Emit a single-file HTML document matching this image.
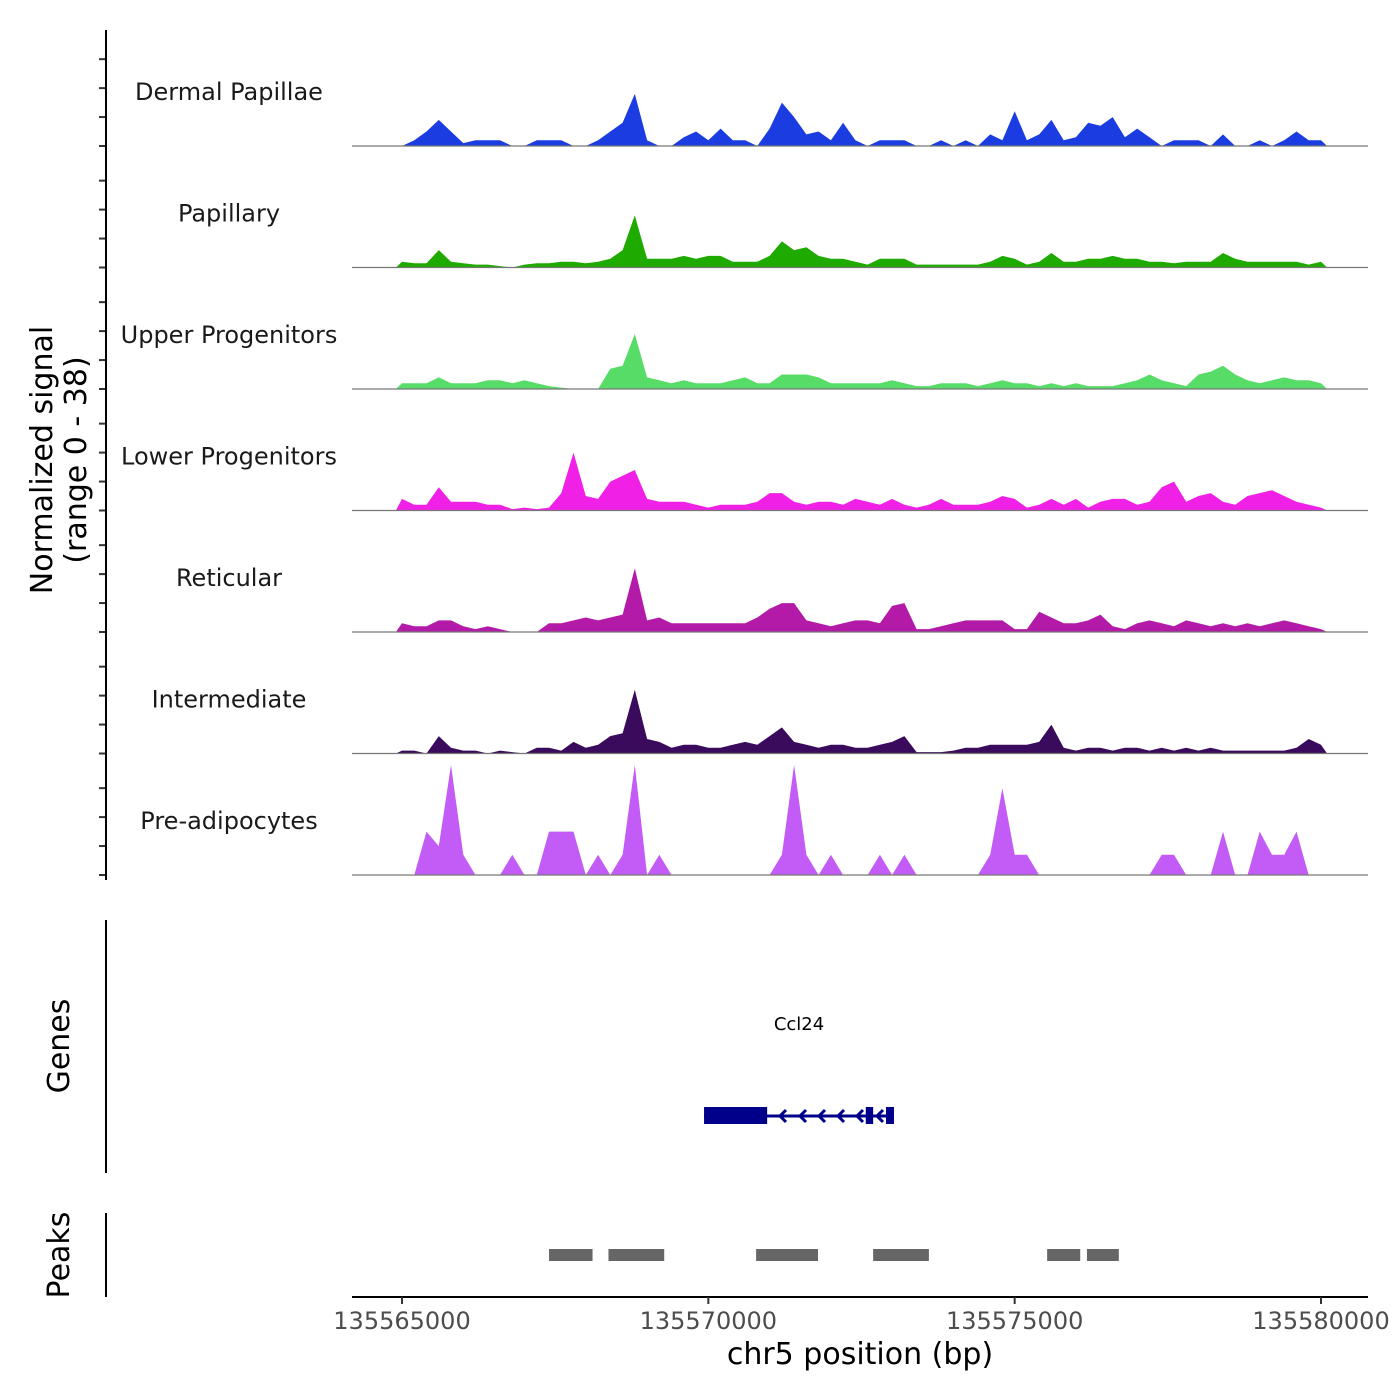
<!DOCTYPE html>
<html><head><meta charset="utf-8"><style>
body{margin:0;background:#fff}
svg{display:block;font-family:"DejaVu Sans","Liberation Sans",sans-serif}
</style></head><body>
<svg id="c" width="1400" height="1400" viewBox="0 0 1400 1400"></svg>
<script>
// ---- data ----
const trackNames = ["Dermal Papillae","Papillary","Upper Progenitors","Lower Progenitors","Reticular","Intermediate","Pre-adipocytes"];
const trackColors = ["#1a3ce0","#1faa00","#58dc68","#f020e6","#b31aa8","#3a0a5c","#c35cf6"];
const binStart = 135564900;
const binSize = 200;
const dermalPapillae = [0,2,5,9,5,1,2,2,2,0,0,2,2,2,0,0,2,5,8,18,2,0,0,3,5,2,6,2,2,0,6,15,10,4,5,2,8,2,0,2,2,2,0,0,2,0,2,0,4,2,12,2,4,9,2,3,8,7,10,3,6,3,0,2,2,2,0,4,0,0,2,0,2,5,2,2];
const papillary = [2,1.5,1.5,6,2,1.5,1,1,0.5,0,1,1.5,1.5,2,2,1.5,2,3,6,18,3,3,3,4,3,4,4,2,2,2,4,9,6,7,4,3,3,2,1,3,3,3,1,1,1,1,1,1,2,4,3,1,2,5,2,2,3,3,4,3,3,2,2,1.5,2,2,2,5,3,2,2,2,2,2,1,2];
const upperProgenitors = [2,2,2,4,2,2,2,3,3,2,3,2,1,0.5,0,0,0,7,8,19,4,3,2,3,2,2,2,3,4,2,2,5,5,5,4,2,2,2,2,2,3,2,1,1,2,2,2,1,2,3,2,2,1,2,1,2,1,1,1,2,3,5,3,2,1,5,6,8,5,3,2,3,4,3,3,2];
const lowerProgenitors = [4,2,2,8,3,3,3,2,2,0.5,1,0.5,1,6,20,5,4,10,12,14,4,3,3,3,2,1,2,2,2,3,6,6,3,2,3,3,2,4,3,2,4,2,1,2,4,2,2,2,3,5,4,1,2,4,2,4,1,3,4,4,2,3,8,10,3,5,6,3,2,5,6,7,5,3,2,1];
const reticular = [3,2,2,4,4,2,1,2,1,0,0,0,3,3,4,5,4,5,6,22,4,5,3,3,3,3,3,3,3,5,8,10,10,4,3,2,3,4,4,3,9,10,1,1,2,3,4,4,4,4,1,1,7,5,3,3,4,6,2,1,3,4,3,2,4,3,2,3,2,3,2,3,4,3,2,1];
const intermediate = [1,1,0,6,2,1,1,0,1,0.5,0,2,2,1,4,2,3,6,7,22,5,4,2,3,3,2,2,3,4,3,6,9,4,3,2,3,3,2,2,3,4,6,0.5,0.5,0.5,1,2,2,3,3,3,3,4,10,2,1,2,2,1,2,2,1,2,1,2,1,2,1,1,1,1,1,1,2,5,3];
const preAdipocytes = [0,0,15,10,38,7,0,0,0,7,0,0,15,15,15,0,7,0,7,38,0,7,0,0,0,0,0,0,0,0,0,7,38,7,0,7,0,0,0,7,0,7,0,0,0,0,0,0,7,30,7,7,0,0,0,0,0,0,0,0,0,0,7,7,0,0,0,15,0,0,15,7,7,15,0,0];
const signals = [dermalPapillae,papillary,upperProgenitors,lowerProgenitors,reticular,intermediate,preAdipocytes];
const yTicks = [0,10,20,30];
const xTicks = [135565000,135570000,135575000,135580000];
const peakStarts = [135567400,135568370,135570780,135572690,135575530,135576180];
const peakEnds   = [135568110,135569280,135571790,135573600,135576070,135576700];
const geneName = "Ccl24";
const geneStart = 135569930, geneEnd = 135573030;
const exonStarts = [135569930,135572570,135572900];
const exonEnds   = [135570960,135572690,135573030];

// ---- scales ----
const X0=352, X1=1368;
const xs = bp => 402 + (bp-135565000)*(919/15000);
const trackH = 121.5, firstBase = 146, pxPerUnit = 110/38;
const ys = (t,v) => firstBase + t*trackH - v*pxPerUnit;
const NS="http://www.w3.org/2000/svg";
const svg=document.getElementById('c');
function mk(tag,attrs,parent){const e=document.createElementNS(NS,tag);for(const k in attrs)e.setAttribute(k,attrs[k]);(parent||svg).appendChild(e);return e;}

signals.forEach((vals,t)=>{
  const g=mk('g',{});
  
  
  const base=ys(t,0);
  let d='M'+xs(binStart)+','+base;
  vals.forEach((v,i)=>{const cx=xs(binStart+(i+0.5)*binSize);d+=' L'+cx.toFixed(1)+','+ys(t,v).toFixed(1);});
  d+=' L'+xs(binStart+vals.length*binSize).toFixed(1)+','+base+' Z';
  const p=mk('path',{d:d,fill:trackColors[t]},g);
  
  
  const bl=mk('line',{x1:X0,x2:X1,y1:base,y2:base,stroke:'#777','stroke-width':1.2},g);
  
  
  const lab=mk('text',{x:229,y:base-46,'text-anchor':'middle','font-size':24,fill:'#1a1a1a'},g);
  lab.textContent=trackNames[t];
  
  
  yTicks.forEach(v=>{
    const tk=mk('line',{x1:99,x2:106,y1:ys(t,v),y2:ys(t,v),stroke:'#333','stroke-width':2});
    
    
  });
});
const ya=mk('line',{x1:106,x2:106,y1:30,y2:880,stroke:'#000','stroke-width':2});


</script>
<script>
const S=document.getElementById('c');
S.insertAdjacentHTML('beforeend',`
<g font-size="30" fill="#000" text-anchor="middle">
<text transform="translate(52,460) rotate(-90)">Normalized signal</text>
<text transform="translate(86,460) rotate(-90)">(range 0 - 38)</text></g>
<line x1="106" x2="106" y1="920" y2="1173" stroke="#000" stroke-width="2"/>
<text transform="translate(69,1046) rotate(-90)" font-size="30" text-anchor="middle">Genes</text>
<line x1="106" x2="106" y1="1213" y2="1297" stroke="#000" stroke-width="2"/>
<text transform="translate(69,1255) rotate(-90)" font-size="30" text-anchor="middle">Peaks</text>
<line x1="352" x2="1368" y1="1297" y2="1297" stroke="#000" stroke-width="2"/>
<text x="860" y="1364" font-size="30" text-anchor="middle">chr5 position (bp)</text>
`);
xTicks.forEach(v=>{
  const x=xs(v);
  const l=mk('line',{x1:x,x2:x,y1:1297,y2:1304,stroke:'#333','stroke-width':2});
  
  
  const t=mk('text',{x:x,y:1329,'font-size':24,fill:'#4d4d4d','text-anchor':'middle'});
  t.textContent=String(v);
  
  
});
peakStarts.forEach((s,i)=>{
  const r=mk('rect',{x:xs(s),y:1249,width:xs(peakEnds[i])-xs(s),height:12,fill:'#666'});
  
  
});
const gg=mk('g',{});


const gl=mk('text',{x:(xs(geneStart)+xs(geneEnd))/2,y:1030,'font-size':18,'text-anchor':'middle'},gg);
gl.textContent=geneName;


const gline=mk('line',{x1:xs(geneStart),x2:xs(geneEnd),y1:1116,y2:1116,stroke:'#00008b','stroke-width':3},gg);


exonStarts.forEach((s,i)=>{
  const r=mk('rect',{x:xs(s),y:1107,width:xs(exonEnds[i])-xs(s),height:17,fill:'#00008b'},gg);
  
  
});
[780,800,819,838,857,877].forEach(x=>{
  const a=mk('path',{d:`M${x+6},1110 L${x},1116 L${x+6},1122`,fill:'none',stroke:'#00008b','stroke-width':3},gg);
  
  
});
</script>
</body></html>
